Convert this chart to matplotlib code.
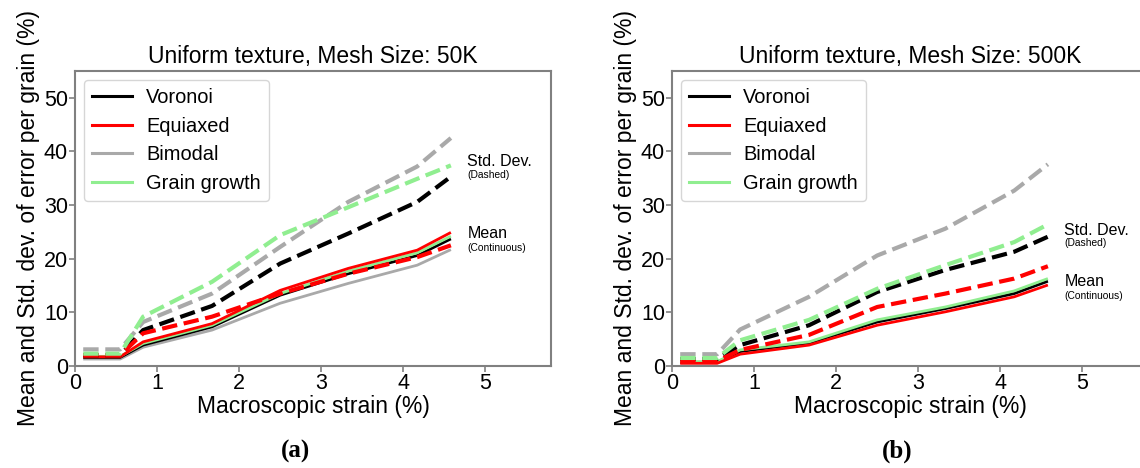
import matplotlib
matplotlib.use('Agg')
import matplotlib.pyplot as plt

plt.rcParams['font.family'] = ['Liberation Sans', 'DejaVu Sans']

# strain points (%)
strain = [0.1, 0.55, 0.83, 1.67, 2.5, 3.33, 4.17, 4.58]

names = ['Voronoi', 'Equiaxed', 'Bimodal', 'Grain growth']
colors = ['black', 'red', 'darkgray', 'lightgreen']

# panel (a) - 50K mesh
mean_50k = {
    'Voronoi':      [1.6, 1.6, 3.9, 7.3, 13.2, 17.2, 20.6, 23.7],
    'Equiaxed':     [1.7, 1.7, 4.5, 7.9, 14.1, 18.2, 21.6, 24.9],
    'Bimodal':      [1.3, 1.3, 3.5, 6.7, 11.7, 15.4, 18.8, 21.7],
    'Grain growth': [1.8, 1.8, 4.2, 7.6, 13.5, 17.7, 21.1, 24.2],
}
std_50k = {
    'Voronoi':      [2.0, 2.0, 6.7, 11.2, 19.1, 24.7, 30.6, 35.3],
    'Equiaxed':     [2.0, 2.0, 6.1, 9.2, 13.5, 17.2, 20.3, 22.5],
    'Bimodal':      [3.1, 3.1, 8.2, 13.5, 22.2, 30.6, 37.2, 42.5],
    'Grain growth': [2.3, 2.3, 9.2, 15.7, 24.4, 29.6, 34.9, 37.4],
}

# panel (b) - 500K mesh
mean_500k = {
    'Voronoi':      [0.7, 0.7, 2.7, 4.3, 8.2, 10.7, 13.5, 15.8],
    'Equiaxed':     [0.5, 0.5, 2.2, 3.9, 7.6, 10.1, 12.9, 15.1],
    'Bimodal':      [0.6, 0.6, 2.8, 4.3, 8.3, 10.8, 13.7, 16.0],
    'Grain growth': [0.8, 0.8, 3.0, 4.5, 8.6, 11.0, 14.0, 16.3],
}
std_500k = {
    'Voronoi':      [1.3, 1.3, 3.9, 7.6, 13.8, 17.9, 21.3, 24.1],
    'Equiaxed':     [0.9, 0.9, 3.0, 5.8, 11.0, 13.5, 16.3, 18.6],
    'Bimodal':      [2.2, 2.2, 6.8, 12.9, 20.6, 25.6, 32.7, 37.6],
    'Grain growth': [1.5, 1.5, 4.8, 8.6, 14.4, 18.8, 23.1, 26.4],
}

titles = ['Uniform texture, Mesh Size: 50K', 'Uniform texture, Mesh Size: 500K']
tags = ['(a)', '(b)']
std_label_y = [38.1, 25.3]
mean_label_y = [24.7, 15.8]

W, H = 1140, 468
fig = plt.figure(figsize=(W / 100, H / 100), dpi=100)

# axes boxes in pixels: left, bottom(from top), width, height
boxes = [(75, 366, 476, 295), (672, 366, 476, 295)]
tag_x = [295, 897]

mean_order = ['Bimodal', 'Voronoi', 'Grain growth', 'Equiaxed']
std_order = ['Bimodal', 'Voronoi', 'Equiaxed', 'Grain growth']

for i, (means, stds) in enumerate([(mean_50k, std_50k), (mean_500k, std_500k)]):
    l, b, w, h = boxes[i]
    ax = fig.add_axes([l / W, (H - b) / H, w / W, h / H])
    col = dict(zip(names, colors))

    for n in mean_order:
        ax.plot(strain, means[n], color=col[n], lw=2, solid_capstyle='butt')
    for n in std_order:
        ax.plot(strain, stds[n], color=col[n], lw=3, ls='--')

    handles = [plt.Line2D([], [], color=c, lw=2.2) for c in colors]
    ax.legend(handles, names, loc='upper left', fontsize=14.4,
              borderaxespad=0.45, labelspacing=0.48, handlelength=2.0,
              handletextpad=0.7)

    ax.set_xlim(0, 5.8)
    ax.set_ylim(0, 55)
    ax.set_xticks([0, 1, 2, 3, 4, 5])
    ax.set_yticks([0, 10, 20, 30, 40, 50])
    ax.tick_params(labelsize=15.5, color='#808080', length=4, width=1.2, pad=1)
    for s in ax.spines.values():
        s.set_color('#808080')
        s.set_linewidth(1.5)

    ax.set_title(titles[i], fontsize=16.5, pad=6)
    ax.set_xlabel('Macroscopic strain (%)', fontsize=16.5, labelpad=1)
    ax.set_ylabel('Mean and Std. dev. of error per grain (%)', fontsize=16.5, labelpad=3)

    ax.text(4.78, std_label_y[i], 'Std. Dev.', fontsize=11.5, va='center')
    ax.text(4.78, std_label_y[i] - 2.4, '(Dashed)', fontsize=7.4, va='center')
    ax.text(4.78, mean_label_y[i], 'Mean', fontsize=11.5, va='center')
    ax.text(4.78, mean_label_y[i] - 2.7, '(Continuous)', fontsize=7.4, va='center')

    fig.text(tag_x[i] / W, 1 - 451 / H, tags[i], fontsize=18, fontweight='bold',
             family='Liberation Serif', ha='center', va='center')

fig.savefig('out.png', dpi=100)
